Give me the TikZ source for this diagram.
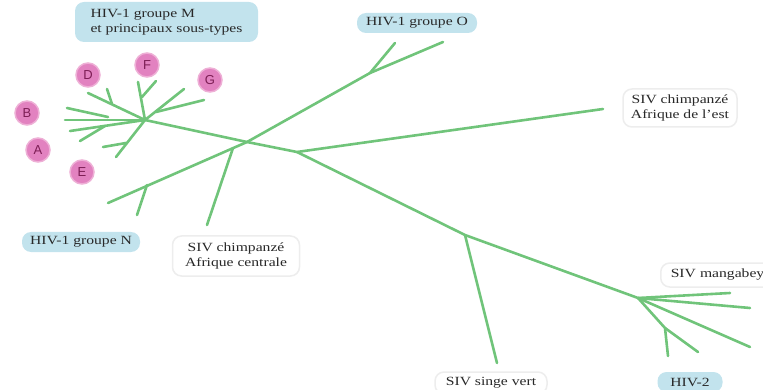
\documentclass[tikz,border=0pt]{standalone}
\usepackage{fontspec}
\setmainfont{Liberation Serif}[FakeStretch=1.25]
\newfontfamily\lettfont{Liberation Sans}
\definecolor{br}{RGB}{112,196,122}
\definecolor{lblue}{RGB}{194,227,237}
\definecolor{pinkf}{RGB}{226,130,192}
\definecolor{pinke}{RGB}{238,176,214}
\definecolor{lettc}{RGB}{125,30,85}
\definecolor{txt}{RGB}{40,40,40}
\begin{document}
\begin{tikzpicture}[x=1pt,y=-1pt,
  branch/.style={draw=br, line width=2.6pt, line cap=round, line join=round},
  lab/.style={font={\fontsize{12.5}{15}\selectfont}, text=txt, inner sep=0pt, rounded corners=9pt},
  bluebox/.style={lab, fill=lblue},
  whitebox/.style={lab, fill=white, draw=black!7, line width=1.5pt},
  lett/.style={circle, fill=pinkf, draw=pinke, line width=1.5pt, minimum size=24pt, inner sep=0pt,
    font={\lettfont\fontsize{13}{13}\selectfont}, text=lettc}]
\useasboundingbox (0,0) rectangle (763,390);
% tree points
\coordinate (C1) at (297,152);
\coordinate (C2) at (247,142);
\coordinate (Mhub) at (145,120);
\coordinate (Ffk) at (142,97);
\coordinate (F1) at (138,82);
\coordinate (F2) at (156,81);
\coordinate (Gfk) at (156,112);
\coordinate (G1) at (184,89);
\coordinate (G2) at (204,100);
\coordinate (Dfk) at (112,104);
\coordinate (D1) at (88,93);
\coordinate (D2) at (107,89);
\coordinate (Bfk) at (108,117);
\coordinate (B1) at (67,108);
\coordinate (B2) at (65,120);
\coordinate (Afk) at (105,126);
\coordinate (A1) at (70,131);
\coordinate (A2) at (80,141);
\coordinate (Efk) at (126,143);
\coordinate (E1) at (103,147);
\coordinate (E2) at (116,157);
\coordinate (Nend) at (108,203);
\coordinate (Nfk) at (147,185);
\coordinate (N2) at (137,215);
\coordinate (CCfk) at (233,148);
\coordinate (CCend) at (207,225);
\coordinate (Ofk) at (370,73);
\coordinate (O1) at (395,43);
\coordinate (O2) at (443,42);
\coordinate (Eend) at (603,109);
\coordinate (SVfk) at (465,235);
\coordinate (SVend) at (497,363);
\coordinate (Mgfk) at (638,298);
\coordinate (Mg1) at (730,293);
\coordinate (Mg2) at (750,308);
\coordinate (Mg3) at (750,347);
\coordinate (H2fk) at (665,328);
\coordinate (H21) at (668,356);
\coordinate (H22) at (698,352);
% branches
\draw[branch] (Mhub) -- (C2) -- (C1) -- (Eend);
\draw[branch] (C1) -- (SVfk) -- (Mgfk) -- (Mg2);
\draw[branch] (SVfk) -- (SVend);
\draw[branch] (Mgfk) -- (Mg1);
\draw[branch] (Mgfk) -- (Mg3);
\draw[branch] (Mgfk) -- (H2fk) -- (H21);
\draw[branch] (H2fk) -- (H22);
\draw[branch] (Nend) -- (C2) -- (Ofk) -- (O1);
\draw[branch] (Ofk) -- (O2);
\draw[branch] (Nfk) -- (N2);
\draw[branch] (CCfk) -- (CCend);
\draw[branch] (Mhub) -- (F1);
\draw[branch] (Ffk) -- (F2);
\draw[branch] (Mhub) -- (G1);
\draw[branch] (Gfk) -- (G2);
\draw[branch] (Mhub) -- (D1);
\draw[branch] (Dfk) -- (D2);
\draw[branch] (Mhub) -- (B2);
\draw[branch] (Bfk) -- (B1);
\draw[branch] (Mhub) -- (A1);
\draw[branch] (Afk) -- (A2);
\draw[branch] (Mhub) -- (E2);
\draw[branch] (Efk) -- (E1);
% subtype circles
\node[lett] (cD) at (88,75) {D};
\node[lett] (cF) at (147,65) {F};
\node[lett] (cG) at (210,80) {G};
\node[lett] (cB) at (27,113) {B};
\node[lett] (cA) at (38,150) {A};
\node[lett] (cE) at (82,172) {E};
% labels
\node[bluebox, minimum width=183pt, minimum height=40pt, align=left] (lM) at (166.5,22) {HIV-1 groupe M\\et principaux sous-types};
\node[bluebox, minimum width=120pt, minimum height=20pt] (lO) at (417,23) {HIV-1 groupe O};
\node[bluebox, minimum width=118pt, minimum height=20pt] (lN) at (81,242) {HIV-1 groupe N};
\node[whitebox, minimum width=127pt, minimum height=40pt, align=center] (lCC) at (236,256) {SIV chimpanzé\\Afrique centrale};
\node[whitebox, minimum width=114pt, minimum height=38pt, align=center] (lCE) at (680,108) {SIV chimpanzé\\Afrique de l'est};
\node[whitebox, anchor=west, text width=110pt, inner xsep=10pt, minimum height=24pt, align=left] (lMg) at (660,275) {SIV mangabey};
\node[whitebox, minimum width=112pt, minimum height=22pt] (lSV) at (491,383) {SIV singe vert};
\node[bluebox, minimum width=65pt, minimum height=20pt] (lH2) at (690,382) {HIV-2};
\end{tikzpicture}
\end{document}
